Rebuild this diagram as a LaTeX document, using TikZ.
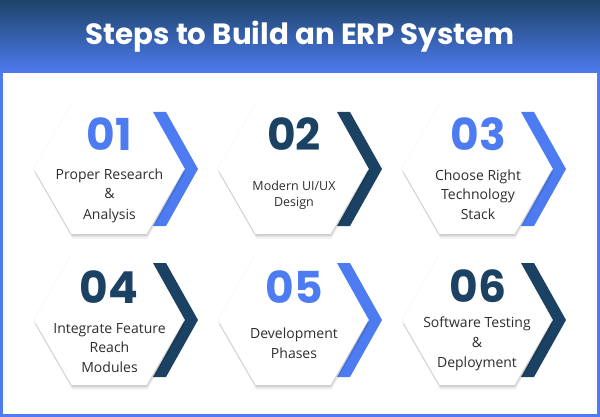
\documentclass[tikz,border=0pt]{standalone}
\usepackage{fontspec}
\setmainfont{Open Sans}
\newfontfamily\popfont{Poppins}
\usetikzlibrary{shapes.geometric,shadows}
\definecolor{navy}{HTML}{1B4163}
\definecolor{bblue}{HTML}{4D7BF1}
\definecolor{hdtop}{HTML}{1E4468}
\definecolor{txtgray}{HTML}{2E2E2E}
\begin{document}
\begin{tikzpicture}[x=1pt,y=-1pt,
  hexa/.style={regular polygon, regular polygon sides=6, minimum size=150pt, inner sep=0pt, fill=white,
    drop shadow={shadow xshift=1pt, shadow yshift=-5pt, opacity=0.04, fill=black},
    drop shadow={shadow xshift=0.8pt, shadow yshift=-3.5pt, opacity=0.06, fill=black},
    drop shadow={shadow xshift=0.5pt, shadow yshift=-2pt, opacity=0.08, fill=black},
    drop shadow={shadow xshift=-0.8pt, shadow yshift=-0.5pt, opacity=0.05, fill=black}},
  num/.style={font=\popfont\bfseries\fontsize{44}{44}\selectfont, anchor=base, inner sep=0pt},
  txt/.style={font=\fontsize{14}{16}\selectfont, text=txtgray, anchor=base, inner sep=0pt},
  txts/.style={font=\fontsize{12.5}{14}\selectfont, text=txtgray, anchor=base, inner sep=0pt},
  ttl/.style={font=\popfont\bfseries\fontsize{29.3}{31}\selectfont, text=white, anchor=base, inner sep=0pt}]
\useasboundingbox (0,0) rectangle (600,417);
% header and frame
\fill[bblue] (0,73) rectangle (600,417);
\fill[white] (3,73) rectangle (597,414);
\shade[top color=hdtop, bottom color=bblue] (0,0) rectangle (600,73);
\node[ttl] (title) at (300,45) {Steps to Build an ERP System};
% chevrons
\foreach \cx/\cy/\col in {109/169/bblue, 293/169/navy, 477/169/bblue, 109/320/navy, 293/320/bblue, 477/320/navy}
  \fill[\col] (\cx+44,\cy-57) -- (\cx+57,\cy-57) -- (\cx+89,\cy) -- (\cx+57,\cy+57) -- (\cx+44,\cy+57) -- (\cx+76,\cy) -- cycle;
% hexagons
\node[hexa] (h1) at (109,169) {};
\node[hexa] (h2) at (293,169) {};
\node[hexa] (h3) at (477,169) {};
\node[hexa] (h4) at (109,320) {};
\node[hexa] (h5) at (293,320) {};
\node[hexa] (h6) at (477,320) {};
% numbers
\node[num, text=bblue] (n1) at (109,151) {01};
\node[num, text=navy]  (n2) at (294,150) {02};
\node[num, text=bblue] (n3) at (478,151) {03};
\node[num, text=navy]  (n4) at (109,303) {04};
\node[num, text=bblue] (n5) at (294,303) {05};
\node[num, text=navy]  (n6) at (478,302) {06};
% texts
\node[txt] (t1a) at (109.5,179) {Proper Research};
\node[txt] (t1b) at (109.5,199) {\&};
\node[txt] (t1c) at (109.5,219) {Analysis};
\node[txts] (t2a) at (294,190) {Modern UI/UX};
\node[txts] (t2b) at (294,207) {Design};
\node[txt] (t3a) at (478,180) {Choose Right};
\node[txt] (t3b) at (478,200) {Technology};
\node[txt] (t3c) at (478,219) {Stack};
\node[txt] (t4a) at (109.5,333) {Integrate Feature};
\node[txt] (t4b) at (109.5,352) {Reach};
\node[txt] (t4c) at (109.5,372) {Modules};
\node[txt] (t5a) at (294,338) {Development};
\node[txt] (t5b) at (294,358) {Phases};
\node[txt] (t6a) at (477,327) {Software Testing};
\node[txt] (t6b) at (477,347) {\&};
\node[txt] (t6c) at (477,367) {Deployment};
\end{tikzpicture}
\end{document}
